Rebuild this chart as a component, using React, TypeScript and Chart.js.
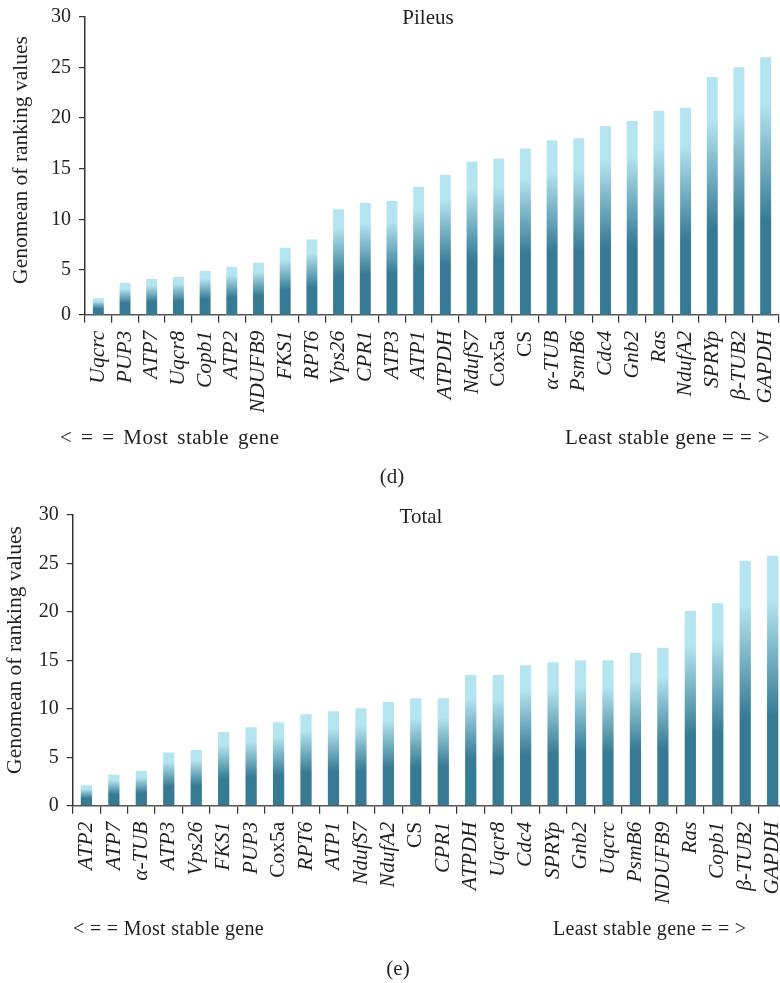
import React, { useEffect, useRef } from "react";
import { Chart, registerables } from "chart.js";

Chart.register(...registerables);

// ---------- data ----------
const pileusGenes = [
  "Uqcrc", "PUP3", "ATP7", "Uqcr8", "Copb1", "ATP2", "NDUFB9", "FKS1", "RPT6",
  "Vps26", "CPR1", "ATP3", "ATP1", "ATPDH", "NdufS7", "Cox5a", "CS", "α-TUB",
  "PsmB6", "Cdc4", "Gnb2", "Ras", "NdufA2", "SPRYp", "β-TUB2", "GAPDH",
];
const pileusValues = [
  2.2, 3.7, 4.1, 4.3, 4.9, 5.3, 5.7, 7.2, 8.0, 11.0, 11.6, 11.8, 13.2, 14.4,
  15.7, 16.0, 17.0, 17.8, 18.0, 19.2, 19.7, 20.7, 21.0, 24.05, 25.0, 26.0,
];
const totalGenes = [
  "ATP2", "ATP7", "α-TUB", "ATP3", "Vps26", "FKS1", "PUP3", "Cox5a", "RPT6",
  "ATP1", "NdufS7", "NdufA2", "CS", "CPR1", "ATPDH", "Uqcr8", "Cdc4", "SPRYp",
  "Gnb2", "Uqcrc", "PsmB6", "NDUFB9", "Ras", "Copb1", "β-TUB2", "GAPDH",
];
const totalValues = [
  2.1, 3.2, 3.6, 5.5, 5.75, 7.6, 8.1, 8.6, 9.45, 9.75, 10.05, 10.7, 11.1, 11.1,
  13.5, 13.5, 14.5, 14.8, 15.0, 15.0, 15.75, 16.3, 20.1, 20.9, 25.25, 25.8,
];
const yTickValues = [0, 5, 10, 15, 20, 25, 30];
const uprightGenes = ["CS", "Cox5a"];

// ---------- styles ----------
const SERIF = '"Liberation Serif", "Times New Roman", serif';
const DARK = "#367a94";
const LIGHT = "#b5e5f0";
const INK = "#231f20";

const panelText = {
  id: "panelText",
  afterDraw(chart: any, _args: any, opts: any) {
    const ctx = chart.ctx;
    ctx.save();
    ctx.fillStyle = INK;
    ctx.font = `21px ${SERIF}`;
    ctx.textAlign = "center";
    ctx.textBaseline = "alphabetic";
    ctx.fillText(opts.title, opts.titleX, opts.titleY);
    ctx.translate(opts.yTitleX, opts.yTitleY);
    ctx.rotate(-Math.PI / 2);
    ctx.textBaseline = "middle";
    ctx.font = `21.5px ${SERIF}`;
    ctx.fillText(opts.yTitle, 0, 0);
    ctx.restore();
  },
};

function barFill(c: any) {
  const chart = c.chart;
  const y = chart.scales?.y;
  if (!chart.chartArea || !y || typeof c.raw !== "number") return DARK;
  const top = y.getPixelForValue(c.raw);
  const base = y.getPixelForValue(Math.max(y.min, 0));
  if (!isFinite(top) || !isFinite(base) || Math.abs(base - top) < 1) return DARK;
  const g = chart.ctx.createLinearGradient(0, base, 0, top);
  g.addColorStop(0, DARK);
  g.addColorStop(0.36, DARK);
  g.addColorStop(0.82, LIGHT);
  g.addColorStop(1, LIGHT);
  return g;
}

function buildConfig(p: {
  genes: string[];
  values: number[];
  yMin: number;
  yAxisWidth: number;
  xAxisHeight: number;
  padding: any;
  title: string;
  titleX: number;
  titleY: number;
  yTitleX: number;
  yTitleY: number;
}): any {
  return {
    type: "bar",
    data: {
      labels: p.genes,
      datasets: [
        {
          data: p.values,
          backgroundColor: barFill,
          borderWidth: 0,
          categoryPercentage: 1,
          barPercentage: 0.41,
        },
      ],
    },
    plugins: [panelText],
    options: {
      responsive: false,
      animation: false,
      events: [],
      layout: { padding: p.padding },
      plugins: {
        legend: { display: false },
        tooltip: { enabled: false },
        title: { display: false },
        panelText: {
          title: p.title,
          titleX: p.titleX,
          titleY: p.titleY,
          yTitle: "Genomean of ranking values",
          yTitleX: p.yTitleX,
          yTitleY: p.yTitleY,
        },
      },
      scales: {
        x: {
          type: "category",
          offset: true,
          border: { display: true, color: "#555", width: 1.5 },
          grid: {
            offset: true,
            drawOnChartArea: false,
            drawTicks: true,
            tickLength: 8,
            color: "#333",
            lineWidth: 1.2,
          },
          ticks: {
            autoSkip: false,
            maxRotation: 90,
            minRotation: 90,
            padding: 8,
            color: INK,
            font: (c: any) => ({
              family: SERIF,
              size: 21.5,
              style: uprightGenes.includes(c?.tick?.label) ? "normal" : "italic",
            }),
          },
          afterFit: (s: any) => {
            s.height = p.xAxisHeight;
            s.paddingLeft = 0;
            s.paddingRight = 0;
          },
        },
        y: {
          type: "linear",
          min: p.yMin,
          max: 30,
          border: { display: true, color: "#333", width: 1.5 },
          grid: {
            drawOnChartArea: false,
            drawTicks: true,
            tickLength: 6,
            color: "#333",
            lineWidth: 1.2,
          },
          afterBuildTicks: (s: any) => {
            s.ticks = yTickValues.map((v) => ({ value: Math.max(v, p.yMin) }));
          },
          ticks: {
            padding: 8,
            color: INK,
            font: { family: SERIF, size: 20 },
            callback: (v: any) => (v < 1 ? "0" : String(v)),
          },
          afterFit: (s: any) => {
            s.width = p.yAxisWidth;
            s.paddingTop = 0;
            s.paddingBottom = 0;
          },
        },
      },
    },
  };
}

const noteStyle: React.CSSProperties = {
  position: "absolute",
  fontFamily: SERIF,
  fontSize: 21,
  lineHeight: "20px",
  color: INK,
  whiteSpace: "pre",
};
const mostStyle: React.CSSProperties = { ...noteStyle, letterSpacing: "0.5px", wordSpacing: "3px" };
const leastStyle: React.CSSProperties = { ...noteStyle, letterSpacing: "0.4px" };
const bottomNoteStyle: React.CSSProperties = { ...noteStyle, fontSize: 20, letterSpacing: "0.3px" };

export default function App() {
  const topRef = useRef<HTMLCanvasElement | null>(null);
  const botRef = useRef<HTMLCanvasElement | null>(null);

  useEffect(() => {
    const top = new Chart(
      topRef.current as HTMLCanvasElement,
      buildConfig({
        genes: pileusGenes,
        values: pileusValues,
        yMin: 0.58,
        yAxisWidth: 85,
        xAxisHeight: 490 - 314.7,
        padding: { top: 16.7, left: 0, right: 1, bottom: 0 },
        title: "Pileus",
        titleX: 428,
        titleY: 24,
        yTitleX: 21,
        yTitleY: 160,
      })
    );
    const bot = new Chart(
      botRef.current as HTMLCanvasElement,
      buildConfig({
        genes: totalGenes,
        values: totalValues,
        yMin: 0,
        yAxisWidth: 72.7,
        xAxisHeight: 493 - 315.7,
        padding: { top: 25, left: 0, right: 13.6, bottom: 0 },
        title: "Total",
        titleX: 421,
        titleY: 33,
        yTitleX: 15,
        yTitleY: 160,
      })
    );
    return () => {
      top.destroy();
      bot.destroy();
    };
  }, []);

  return (
    <div
      style={{
        position: "absolute",
        left: 0,
        top: 0,
        width: 780,
        height: 983,
        overflow: "hidden",
        background: "#fff",
      }}
    >
      <canvas
        ref={topRef}
        width={780}
        height={490}
        style={{ position: "absolute", left: 0, top: 0, width: 780, height: 490 }}
      />
      <canvas
        ref={botRef}
        width={800}
        height={493}
        style={{ position: "absolute", left: 0, top: 490, width: 800, height: 493 }}
      />
      <div style={{ ...mostStyle, left: 60, top: 427 }}>{"< = = Most stable gene"}</div>
      <div style={{ ...leastStyle, left: 565, top: 427 }}>{"Least stable gene = = >"}</div>
      <div style={{ ...noteStyle, left: 372, top: 466, width: 40, textAlign: "center" }}>(d)</div>
      <div style={{ ...bottomNoteStyle, left: 73, top: 918 }}>{"< = = Most stable gene"}</div>
      <div style={{ ...bottomNoteStyle, left: 553, top: 918 }}>{"Least stable gene = = >"}</div>
      <div style={{ ...noteStyle, left: 378, top: 958, width: 40, textAlign: "center" }}>(e)</div>
    </div>
  );
}
